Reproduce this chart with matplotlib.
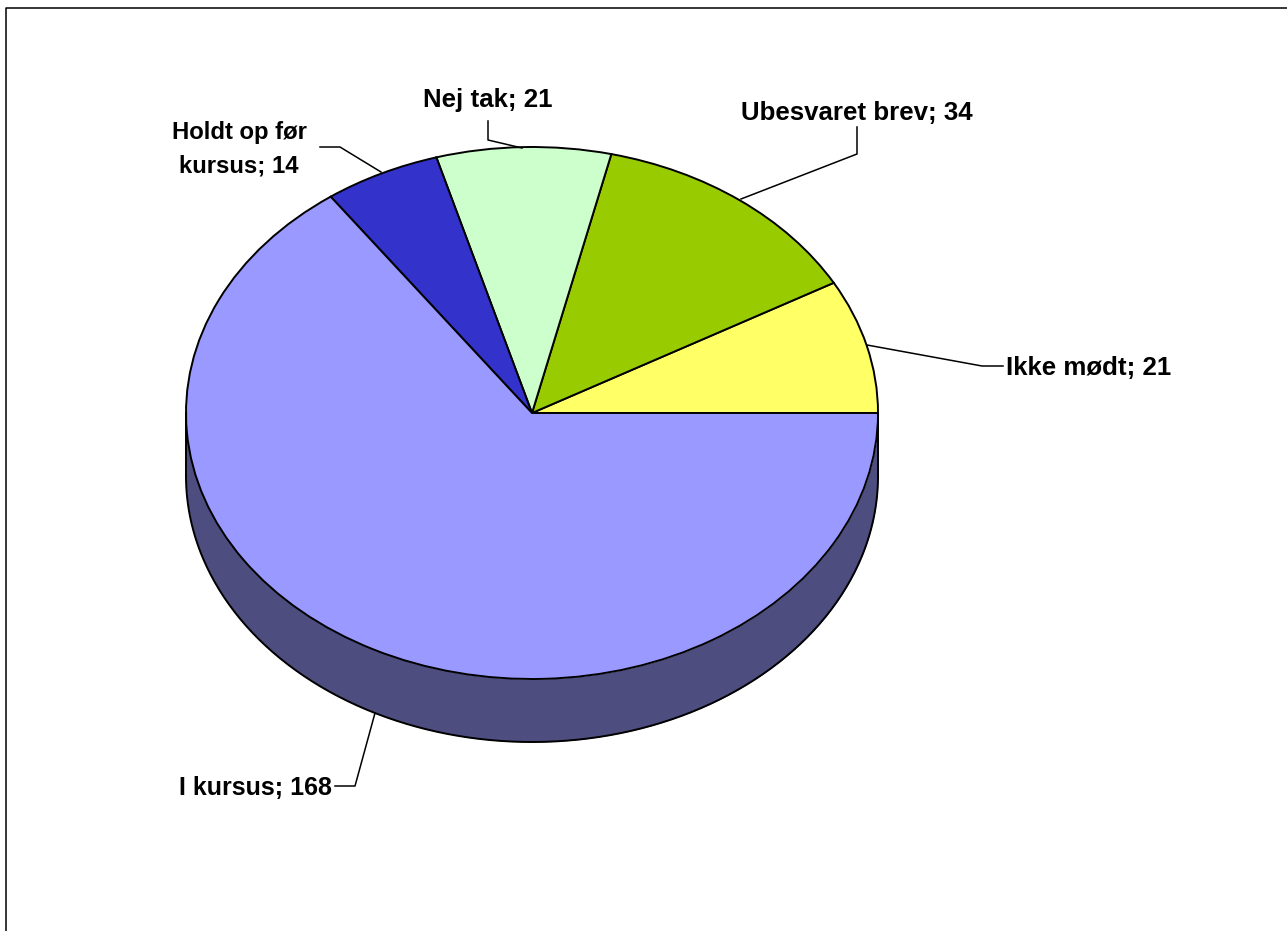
import numpy as np
import matplotlib
matplotlib.use('Agg')
import matplotlib.pyplot as plt
from matplotlib.lines import Line2D

labels = ['Ikke mødt', 'Ubesvaret brev', 'Nej tak', 'Holdt op før\nkursus', 'I kursus']
values = [21, 34, 21, 14, 168]
colors = ['#FFFF66', '#99CC00', '#CCFFCC', '#3333CC', '#9999FF']
side_color = '#4D4D80'

# all in reference pixels, y going down
W, H = 1287, 931
CX, CY = 532, 413
RX, RY = 346, 266
DEPTH = 63
LW = 1.4

# label position + anchor + font size + leader line
label_layout = [
    (1006, 368, 'left', 18.6, [(867, 345), (982, 366), (1003, 366)]),
    (857, 113, 'center', 18.6, [(741, 199), (857, 154), (857, 127)]),
    (488, 100, 'center', 18.6, [(522, 148), (488, 140), (488, 121)]),
    (239, 149, 'center', 17.2, [(381, 172), (340, 147), (320, 147)]),
    (332, 788, 'right', 18, [(375, 713), (355, 786), (335, 786)]),
]


def to_data(px, py):
    return (px - CX) / RX, (CY - py) / RY


plt.rcParams['font.family'] = ['Liberation Sans', 'DejaVu Sans']

fig = plt.figure(figsize=(W / 100, H / 100), dpi=100, facecolor='white')
ax = fig.add_axes([0, 0, 1, 1])

# side of the pie
drop = DEPTH / RY
t = np.linspace(np.pi, 2 * np.pi, 300)
ax.fill_between(np.cos(t), np.sin(t), np.sin(t) - drop, color=side_color, lw=0, zorder=1)
ax.plot(np.cos(t), np.sin(t) - drop, color='black', lw=LW, zorder=2)
ax.plot([-1, -1], [0, -drop], color='black', lw=LW, zorder=2)
ax.plot([1, 1], [0, -drop], color='black', lw=LW, zorder=2)

# top of the pie
wedges, _ = ax.pie(values, colors=colors, startangle=0, counterclock=True, radius=1,
                   wedgeprops={'edgecolor': 'black', 'linewidth': LW, 'zorder': 3})

ax.set_aspect('auto')
ax.set_xlim(to_data(0, 0)[0], to_data(W, 0)[0])
ax.set_ylim(to_data(0, H)[1], to_data(0, 0)[1])
ax.axis('off')

for name, value, layout in zip(labels, values, label_layout):
    x, y, ha, size, leader = layout
    tx, ty = to_data(x, y)
    ax.text(tx, ty, f'{name}; {value}', ha=ha, va='center', multialignment='center',
            fontsize=size, fontweight='bold', color='black', linespacing=1.58, zorder=5)
    pts = [to_data(px, py) for px, py in leader]
    ax.plot([p[0] for p in pts], [p[1] for p in pts], color='black', lw=1.1, zorder=4)

# chart area border, only left and top are inside the picture
fig.add_artist(Line2D([6 / W, 6 / W, 1], [0, 1 - 8 / H, 1 - 8 / H], color='black', lw=1.1))

fig.savefig('out.png', dpi=100)
